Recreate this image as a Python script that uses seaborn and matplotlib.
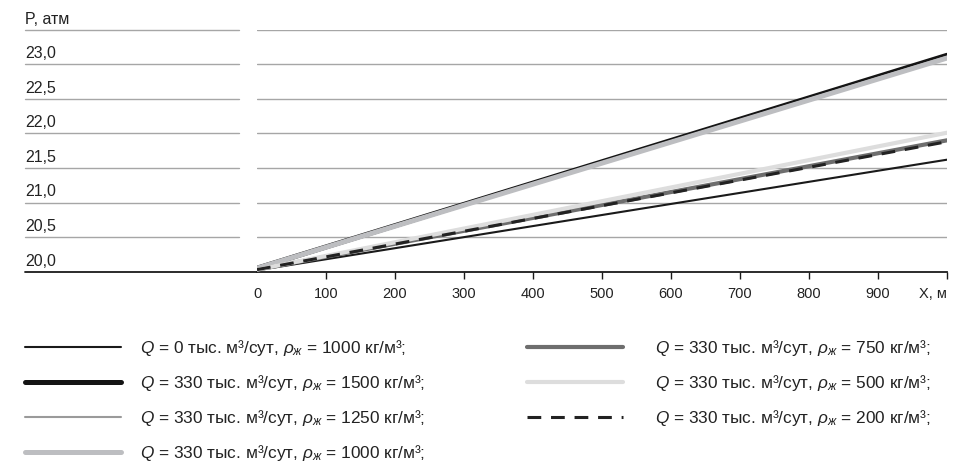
import matplotlib
matplotlib.use("Agg")
import matplotlib.pyplot as plt
import seaborn as sns
import pandas as pd

# distance along the pipe, m
x_pos = [0, 1000]

# pressure at the start and end of each line, atm
p_q0_1000 = [20.02, 21.62]
p_q330_1500 = [20.05, 23.13]
p_q330_1250 = [20.05, 23.11]
p_q330_1000 = [20.05, 23.09]
p_q330_750 = [20.03, 21.90]
p_q330_500 = [20.03, 22.01]
p_q330_200 = [20.03, 21.88]

labels = [
    r"$Q$ = 0 тыс. м³/сут, $\rho_{ж}$ = 1000 кг/м³;",
    r"$Q$ = 330 тыс. м³/сут, $\rho_{ж}$ = 1500 кг/м³;",
    r"$Q$ = 330 тыс. м³/сут, $\rho_{ж}$ = 1250 кг/м³;",
    r"$Q$ = 330 тыс. м³/сут, $\rho_{ж}$ = 1000 кг/м³;",
    r"$Q$ = 330 тыс. м³/сут, $\rho_{ж}$ = 750 кг/м³;",
    r"$Q$ = 330 тыс. м³/сут, $\rho_{ж}$ = 500 кг/м³;",
    r"$Q$ = 330 тыс. м³/сут, $\rho_{ж}$ = 200 кг/м³;",
]
series = [p_q0_1000, p_q330_1500, p_q330_1250, p_q330_1000,
          p_q330_750, p_q330_500, p_q330_200]

y_ticks = [20.0, 20.5, 21.0, 21.5, 22.0, 22.5, 23.0]
y_tick_labels = ["20,0", "20,5", "21,0", "21,5", "22,0", "22,5", "23,0"]
y_top = 23.5
y_title = "P, атм"
x_ticks = [0, 100, 200, 300, 400, 500, 600, 700, 800, 900, 1000]
x_tick_labels = ["0", "100", "200", "300", "400", "500", "600", "700", "800", "900", "X, м"]

rows = []
for lab, vals in zip(labels, series):
    for xx, pp in zip(x_pos, vals):
        rows.append([lab, xx, pp])
df = pd.DataFrame(rows, columns=["serie", "x", "p"])

sns.set_theme(style="white")
plt.rcParams["font.family"] = ["Liberation Sans", "DejaVu Sans"]
plt.rcParams["mathtext.fontset"] = "custom"
plt.rcParams["mathtext.rm"] = "Liberation Sans"
plt.rcParams["mathtext.it"] = "Liberation Sans:italic"

colors = ["#1a1a1a", "#141414", "#9a9a9a", "#bdbec1", "#6e6e6e", "#dddddd", "#222222"]
widths = [1.5, 3.6, 1.5, 3.6, 3.0, 3.0, 2.2]
styles = ["-", "-", "-", "-", "-", "-", (0, (4.5, 3.2))]

fig = plt.figure(figsize=(9.71, 4.66), dpi=100)
ax = fig.add_axes([257 / 971, 1 - 271.7 / 466, 690 / 971, (271.7 - 29.7) / 466])

handles = []
for i, lab in enumerate(labels):
    sub = df[df["serie"] == lab]
    sns.lineplot(data=sub, x="x", y="p", ax=ax, color=colors[i], linewidth=widths[i],
                 linestyle=styles[i], label=lab, legend=False, zorder=3 + i)
    handles.append(ax.lines[-1])

ax.set_xlim(0, 1000)
ax.set_ylim(20.0, y_top)
ax.set_xlabel("")
ax.set_ylabel("")

# horizontal grid + left label lines
ytr = ax.get_yaxis_transform()
for yv in y_ticks[1:] + [y_top]:
    ax.axhline(yv, color="#a6a6a6", lw=1.0, zorder=1)
    ax.plot([-0.336, -0.026], [yv, yv], color="#a6a6a6", lw=1.0, transform=ytr, clip_on=False)
ax.plot([-0.336, 0], [20.0, 20.0], color="#1a1a1a", lw=1.3, transform=ytr, clip_on=False)

for yv, txt in zip(y_ticks + [y_top], y_tick_labels + [y_title]):
    ax.text(-0.336, yv + 0.045, txt, transform=ytr, ha="left", va="bottom",
            fontsize=11.5, color="#222222")

ax.set_yticks([])
for s in ["top", "right", "left"]:
    ax.spines[s].set_visible(False)
ax.spines["bottom"].set_color("#1a1a1a")
ax.spines["bottom"].set_linewidth(1.3)
ax.set_xticks(x_ticks)
ax.set_xticklabels(x_tick_labels, fontsize=10.5, color="#222222")
ax.tick_params(axis="x", direction="out", length=5, width=1, color="#1a1a1a", pad=6, bottom=True)
lbls = ax.get_xticklabels()
lbls[-1].set_horizontalalignment("right")
ax.get_xticklines()[0].set_visible(False)

leg_kw = dict(loc="upper left", frameon=False, fontsize=12.4, handlelength=5.58,
              labelspacing=0.86, labelcolor="#222222")
leg1 = fig.legend(handles=handles[:4], labels=labels[:4], ncol=1,
                  bbox_to_anchor=(9.6 / 971, 1 - 323 / 466), handletextpad=1.1, **leg_kw)
leg2 = fig.legend(handles=handles[4:], labels=labels[4:], ncol=1,
                  bbox_to_anchor=(511.6 / 971, 1 - 323 / 466), handletextpad=1.86, **leg_kw)

fig.savefig("out.png", dpi=100)
